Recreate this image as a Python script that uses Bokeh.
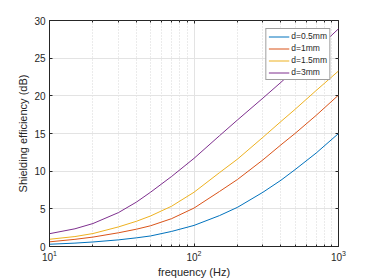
from bokeh.plotting import figure
from bokeh.models import Range1d, FixedTicker, LogAxis, LinearAxis, Legend
from bokeh.embed import file_html
from bokeh.resources import INLINE

freq = [10, 15, 20, 30, 40, 50, 70, 100, 150, 200, 300, 400, 500, 700, 1000]
se_05 = [0.3, 0.45, 0.6, 0.88, 1.15, 1.4, 2.0, 2.8, 4.1, 5.2, 7.2, 8.8, 10.2, 12.4, 15.0]
se_1 = [0.62, 0.95, 1.25, 1.82, 2.3, 2.75, 3.7, 5.1, 7.3, 8.9, 11.5, 13.5, 15.0, 17.4, 20.1]
se_15 = [0.96, 1.32, 1.72, 2.6, 3.35, 4.05, 5.35, 7.2, 9.8, 11.6, 14.5, 16.6, 18.2, 20.7, 23.3]
se_3 = [1.7, 2.35, 3.05, 4.5, 5.9, 7.2, 9.3, 11.7, 14.7, 16.8, 19.7, 21.8, 23.5, 26.1, 28.9]
labels = ["d=0.5mm", "d=1mm", "d=1.5mm", "d=3mm"]
colors = ["#0072BD", "#D95319", "#EDB120", "#7E2F8E"]

x_major = [10, 100, 1000]
x_minor = [20, 30, 40, 50, 60, 70, 80, 90, 200, 300, 400, 500, 600, 700, 800, 900]
y_ticks = [0, 5, 10, 15, 20, 25, 30]

AX = "#262626"
FONT = "Liberation Sans"

p = figure(width=374, height=280, x_axis_type="log", output_backend="svg",
           toolbar_location=None, x_range=Range1d(10, 1000), y_range=Range1d(0, 30),
           min_border_left=49, min_border_right=36, min_border_top=20, min_border_bottom=32)

p.background_fill_color = "white"
p.border_fill_color = "white"
p.outline_line_color = AX
p.outline_line_width = 1

xt = FixedTicker(ticks=x_major, minor_ticks=x_minor)
yt = FixedTicker(ticks=y_ticks)

xa = p.xaxis[0]
xa.ticker = xt
ya = p.yaxis[0]
ya.ticker = yt

for ax in [xa, ya]:
    ax.axis_line_color = AX
    ax.major_tick_in = 3
    ax.major_tick_out = 0
    ax.minor_tick_in = 2
    ax.minor_tick_out = 0
    ax.major_tick_line_color = AX
    ax.minor_tick_line_color = AX
    ax.major_label_text_color = AX
    ax.major_label_text_font = FONT
    ax.major_label_text_font_size = "10px"
    ax.axis_label_text_color = AX
    ax.axis_label_text_font = FONT
    ax.axis_label_text_font_size = "11px"
    ax.axis_label_text_font_style = "normal"

ya.minor_tick_line_color = None
xa.axis_label = "frequency (Hz)"
ya.axis_label = "Shielding efficiency (dB)"
xa.major_label_standoff = 3
xa.axis_label_standoff = 2
ya.major_label_standoff = 4
ya.axis_label_standoff = 2

top = LogAxis(ticker=xt, major_label_text_color=None, axis_line_color=None,
              major_tick_in=3, major_tick_out=0, minor_tick_in=2, minor_tick_out=0,
              major_tick_line_color=AX, minor_tick_line_color=AX, major_label_standoff=0,
              major_label_text_font_size="1px")
right = LinearAxis(ticker=yt, major_label_text_color=None, axis_line_color=None,
                   major_tick_in=3, major_tick_out=0, minor_tick_line_color=None,
                   major_tick_line_color=AX, major_label_standoff=0,
                   major_label_text_font_size="1px")
p.add_layout(top, "above")
p.add_layout(right, "right")

p.xgrid.ticker = xt
p.ygrid.ticker = yt
p.xgrid.grid_line_color = "#e3e3e3"
p.ygrid.grid_line_color = "#e3e3e3"
p.xgrid.minor_grid_line_color = "#d6d6d6"
p.xgrid.minor_grid_line_dash = "1 2"

series = [se_05, se_1, se_15, se_3]
items = []
for s, lab, c in zip(series, labels, colors):
    r = p.line(freq, s, line_color=c, line_width=1)
    items.append((lab, [r]))

leg = Legend(items=items, location="top_right")
leg.label_text_font = FONT
leg.label_text_font_size = "8.5px"
leg.label_text_color = AX
leg.label_height = 9
leg.glyph_height = 9
leg.glyph_width = 21
leg.spacing = 2
leg.padding = 2
leg.margin = 8
leg.label_standoff = 2
leg.border_line_color = "#404040"
leg.border_line_width = 1
leg.background_fill_alpha = 1
p.add_layout(leg, "center")

open("out.html", "w").write(file_html(p, INLINE))
